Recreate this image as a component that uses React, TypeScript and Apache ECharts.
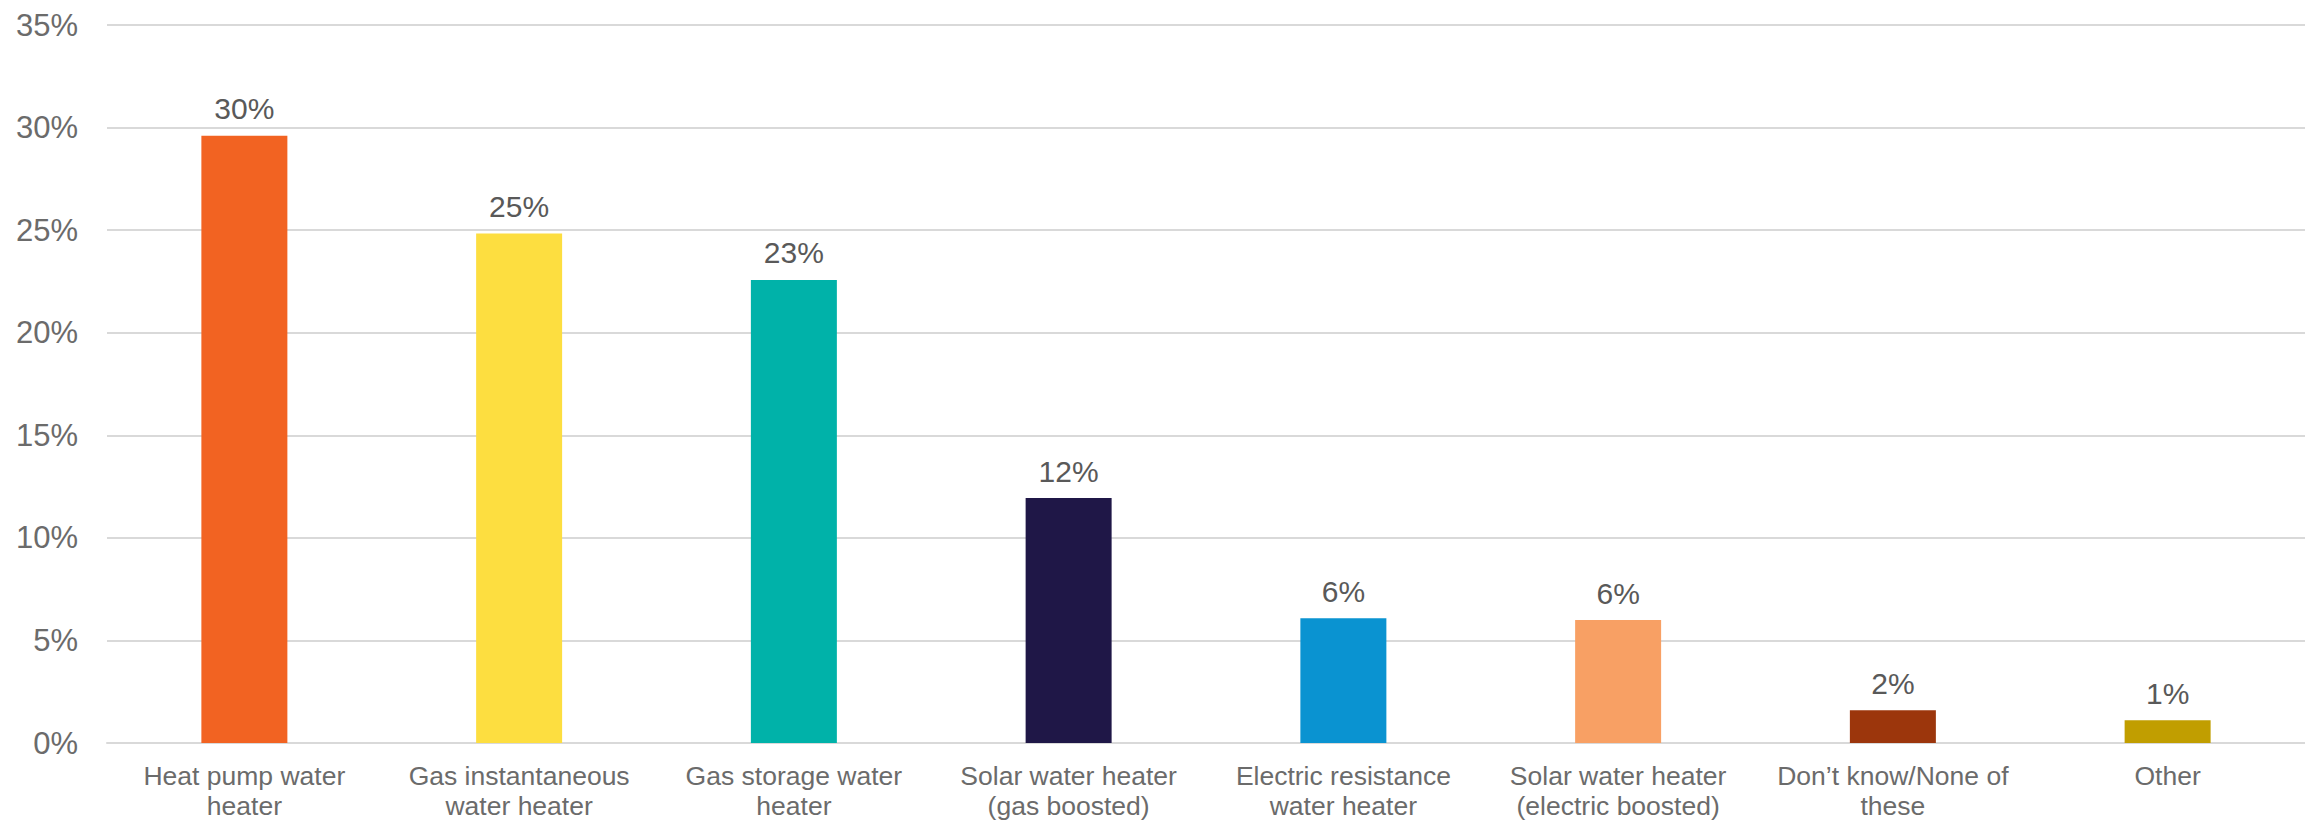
import React, { useEffect, useRef } from "react";
import * as echarts from "echarts";

const categories = [
  "Heat pump water\nheater",
  "Gas instantaneous\nwater heater",
  "Gas storage water\nheater",
  "Solar water heater\n(gas boosted)",
  "Electric resistance\nwater heater",
  "Solar water heater\n(electric boosted)",
  "Don\u2019t know/None of\nthese",
  "Other",
];
const values = [29.6, 24.84, 22.57, 11.94, 6.08, 5.99, 1.6, 1.11];
const barColors = [
  "#F26322",
  "#FDDE40",
  "#00B2A9",
  "#1F1747",
  "#0A93D1",
  "#F8A064",
  "#9C360C",
  "#C19E00",
];
const yTicks = [0, 5, 10, 15, 20, 25, 30, 35];

export default function App() {
  const ref = useRef<HTMLDivElement>(null);
  useEffect(() => {
    if (!ref.current) return;
    const chart = echarts.init(ref.current, undefined, { renderer: "svg" });
    chart.setOption({
      animation: false,
      backgroundColor: "#ffffff",
      grid: { left: 107, right: 0, top: 25, bottom: 79, containLabel: false },
      xAxis: {
        type: "category",
        data: categories,
        axisTick: { show: false },
        axisLine: { show: true, lineStyle: { color: "#D9D9D9", width: 2 } },
        axisLabel: {
          interval: 0,
          margin: 18,
          color: "#6B6B6B",
          fontFamily: "Liberation Sans, Arial, sans-serif",
          fontSize: 26.5,
          lineHeight: 30,
        },
      },
      yAxis: {
        type: "value",
        min: yTicks[0],
        max: yTicks[yTicks.length - 1],
        interval: 5,
        axisLine: { show: false },
        axisTick: { show: false },
        splitLine: { lineStyle: { color: "#D9D9D9", width: 2 } },
        axisLabel: {
          margin: 29,
          color: "#6B6B6B",
          fontFamily: "Liberation Sans, Arial, sans-serif",
          fontSize: 31,
          formatter: (v: number) => `${v}%`,
        },
      },
      series: [
        {
          type: "bar",
          barWidth: "31.3%",
          data: values.map((v, i) => ({ value: v, itemStyle: { color: barColors[i] } })),
          label: {
            show: true,
            position: "top",
            distance: 12,
            color: "#595959",
            fontFamily: "Liberation Sans, Arial, sans-serif",
            fontSize: 30,
            formatter: (p: any) => `${Math.round(p.value)}%`,
          },
        },
      ],
    });
    return () => chart.dispose();
  }, []);
  return (
    <div
      ref={ref}
      style={{ position: "absolute", left: 0, top: 0, width: 2305, height: 822 }}
    />
  );
}
